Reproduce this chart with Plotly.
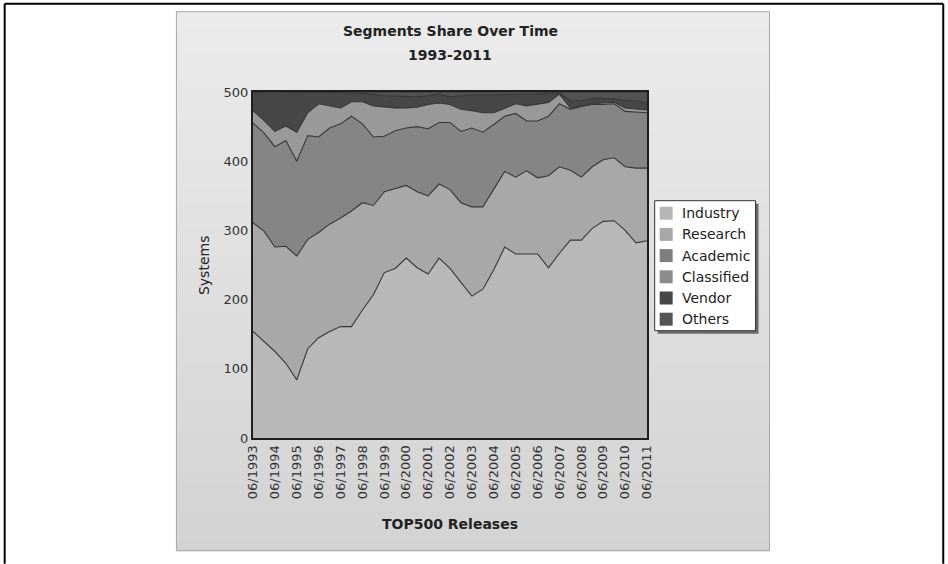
import plotly.graph_objects as go

# ---------------- data (systems per segment, TOP500 lists 06/1993 .. 06/2011) -------------
releases = ["06/1993", "11/1993", "06/1994", "11/1994", "06/1995", "11/1995", "06/1996", "11/1996",
            "06/1997", "11/1997", "06/1998", "11/1998", "06/1999", "11/1999", "06/2000", "11/2000",
            "06/2001", "11/2001", "06/2002", "11/2002", "06/2003", "11/2003", "06/2004", "11/2004",
            "06/2005", "11/2005", "06/2006", "11/2006", "06/2007", "11/2007", "06/2008", "11/2008",
            "06/2009", "11/2009", "06/2010", "11/2010", "06/2011"]

industry = [154, 140, 125, 108, 84, 129, 145, 154, 161, 161, 185, 207, 239, 245, 260, 246, 237, 260, 245,
            225, 205, 215, 243, 276, 266, 266, 266, 246, 267, 286, 286, 303, 313, 314, 300, 282, 285]
research = [157, 159, 151, 169, 179, 158, 152, 155, 157, 167, 155, 129, 117, 115, 105, 110, 113, 107, 114,
            115, 129, 119, 116, 109, 111, 120, 110, 133, 125, 101, 91, 89, 89, 91, 92, 108, 105]
academic = [144, 142, 145, 153, 137, 150, 138, 139, 136, 137, 114, 99, 80, 84, 83, 94, 97, 89, 97,
            103, 114, 108, 94, 80, 92, 72, 82, 86, 91, 88, 102, 90, 80, 78, 80, 81, 80]
classified = [18, 18, 22, 21, 42, 33, 48, 32, 23, 21, 32, 45, 42, 33, 29, 28, 35, 28, 26,
              32, 25, 28, 17, 12, 14, 22, 24, 20, 14, 2, 1, 1, 2, 2, 5, 5, 4]
vendor = [27, 41, 57, 49, 58, 30, 17, 20, 22, 13, 12, 16, 17, 17, 16, 15, 13, 13, 11,
          20, 23, 26, 26, 20, 14, 16, 15, 13, 2, 10, 8, 8, 7, 5, 11, 11, 10]
others = [0, 0, 0, 0, 0, 0, 0, 0, 1, 1, 2, 4, 5, 6, 7, 7, 5, 3, 7,
          5, 4, 4, 4, 3, 3, 4, 3, 2, 1, 13, 12, 9, 9, 10, 12, 13, 16]

series_names = ["Industry", "Research", "Academic", "Classified", "Vendor", "Others"]
series_values = [industry, research, academic, classified, vendor, others]
series_colors = ["#b8b8b8", "#a8a8a8", "#858585", "#999999", "#474747", "#525252"]
legend_colors = ["#b6b6b6", "#a8a8a8", "#7e7e7e", "#8c8c8c", "#474747", "#545454"]

y_ticks = [0, 100, 200, 300, 400, 500]

# ---------------- geometry helpers ----------------
W, H = 948, 564
L, R, T, B = 252.7, 647.3, 92.3, 438.3


def px(x):
    return (x - L) / (R - L)


def py(y):
    return (B - y) / (B - T)


x_idx = list(range(len(releases)))
tick_vals = [i for i, r in enumerate(releases) if r.startswith("06/")]
tick_text = [releases[i] for i in tick_vals]

fig = go.Figure()
for name, vals, col in zip(series_names, series_values, series_colors):
    fig.add_trace(go.Scatter(
        x=x_idx, y=vals, name=name, mode="lines", stackgroup="one",
        line=dict(color="#363636", width=1.1), fillcolor=col,
        showlegend=False, hovertemplate="%{y}<extra>" + name + "</extra>"))

shapes = []
# panel gradient
x0p, x1p, y0p, y1p = 176, 770, 12, 551
nb = 40
top_c, bot_c = (235, 235, 235), (211, 211, 211)
for k in range(nb):
    t0 = y0p + (y1p - y0p) * k / nb
    t1 = y0p + (y1p - y0p) * (k + 1) / nb
    f = k / (nb - 1)
    c = tuple(int(round(top_c[j] + (bot_c[j] - top_c[j]) * f)) for j in range(3))
    shapes.append(dict(type="rect", xref="paper", yref="paper", layer="below",
                       x0=px(x0p), x1=px(x1p), y0=py(t1 + 0.5), y1=py(t0),
                       line=dict(width=0), fillcolor="rgb(%d,%d,%d)" % c))
shapes.append(dict(type="rect", xref="paper", yref="paper", layer="below",
                   x0=px(x0p), x1=px(x1p), y0=py(y1p), y1=py(y0p),
                   line=dict(color="#a6a6a6", width=1), fillcolor="rgba(0,0,0,0)"))
# outer frame (open at bottom)
for (ax0, ay0, ax1, ay1) in [(4, 4, 4, 564), (4, 4, 944, 4), (944, 4, 944, 564)]:
    shapes.append(dict(type="line", xref="paper", yref="paper", layer="above",
                       x0=px(ax0), y0=py(ay0), x1=px(ax1), y1=py(ay1),
                       line=dict(color="#000000", width=2)))

# legend box with shadow
lx0, ly0, lx1, ly1 = 655, 201, 756, 331
shapes.append(dict(type="rect", xref="paper", yref="paper", layer="above",
                   x0=px(lx0 + 3), x1=px(lx1 + 3), y0=py(ly1 + 3), y1=py(ly0 + 3),
                   line=dict(width=0), fillcolor="#6a6a6a"))
shapes.append(dict(type="rect", xref="paper", yref="paper", layer="above",
                   x0=px(lx0), x1=px(lx1), y0=py(ly1), y1=py(ly0),
                   line=dict(color="#333333", width=1), fillcolor="#ffffff"))
annotations = []
for k, (name, col) in enumerate(zip(series_names, legend_colors)):
    cy = 213.5 + 21.2 * k
    shapes.append(dict(type="rect", xref="paper", yref="paper", layer="above",
                       x0=px(660), x1=px(673), y0=py(cy + 6.5), y1=py(cy - 6.5),
                       line=dict(width=0), fillcolor=col))
    annotations.append(dict(text=name, xref="paper", yref="paper", x=px(680), y=py(cy),
                            xanchor="left", yanchor="middle", showarrow=False,
                            font=dict(family="DejaVu Sans", size=14, color="#222222")))

# titles
annotations.append(dict(text="<b>Segments Share Over Time</b>", xref="paper", yref="paper",
                        x=px(450), y=py(31), xanchor="center", yanchor="middle", showarrow=False,
                        font=dict(family="DejaVu Sans", size=14, color="#222222")))
annotations.append(dict(text="<b>1993-2011</b>", xref="paper", yref="paper",
                        x=px(450), y=py(55), xanchor="center", yanchor="middle", showarrow=False,
                        font=dict(family="DejaVu Sans", size=14, color="#222222")))
annotations.append(dict(text="<b>TOP500 Releases</b>", xref="paper", yref="paper",
                        x=px(450), y=py(524), xanchor="center", yanchor="middle", showarrow=False,
                        font=dict(family="DejaVu Sans", size=14, color="#222222")))
annotations.append(dict(text="Systems", xref="paper", yref="paper", textangle=-90,
                        x=px(203), y=py(265), xanchor="center", yanchor="middle", showarrow=False,
                        font=dict(family="DejaVu Sans", size=14, color="#222222")))

fig.update_layout(
    width=W, height=H,
    margin=dict(l=L, r=W - R, t=T, b=H - B, pad=0),
    paper_bgcolor="#ffffff", plot_bgcolor="rgba(0,0,0,0)",
    showlegend=False, shapes=shapes, annotations=annotations,
    xaxis=dict(range=[0, len(releases) - 1], tickmode="array", tickvals=tick_vals, ticktext=tick_text,
               tickangle=-90, showgrid=False, zeroline=False, ticks="",
               showline=True, linecolor="#1e1e1e", linewidth=2, mirror=True,
               tickfont=dict(family="DejaVu Sans", size=13, color="#333333")),
    yaxis=dict(range=[0, 500], tickmode="array", tickvals=y_ticks, showgrid=False, zeroline=False,
               ticks="", showline=True, linecolor="#1e1e1e", linewidth=2, mirror=True,
               tickfont=dict(family="DejaVu Sans", size=13, color="#333333")),
)

fig.write_html("out.html", config={"displayModeBar": False},
               post_script="document.body.style.margin='0';")
